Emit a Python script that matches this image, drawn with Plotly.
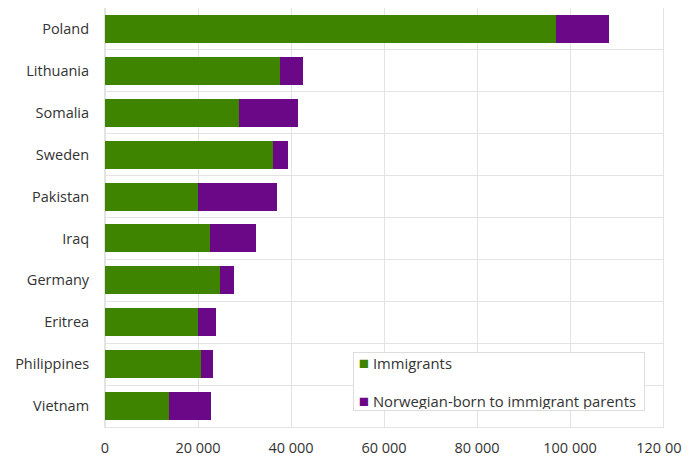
import plotly.graph_objects as go

countries = ["Poland", "Lithuania", "Somalia", "Sweden", "Pakistan", "Iraq",
             "Germany", "Eritrea", "Philippines", "Vietnam"]
immigrants = [97000, 37700, 28900, 36200, 19900, 22500, 24700, 19900, 20700, 13800]
norwegian_born = [11300, 4900, 12700, 3200, 17100, 10000, 3100, 4000, 2500, 9100]
x_ticks = [0, 20000, 40000, 60000, 80000, 100000, 120000]
x_tick_labels = ["0", "20 000", "40 000", "60 000", "80 000", "100 000", "120 000"]
series_names = ["Immigrants", "Norwegian-born to immigrant parents"]
series_colors = ["#3f8400", "#6a0888"]

fig = go.Figure()
fig.add_trace(go.Bar(y=countries, x=immigrants, orientation="h", name=series_names[0],
                     marker=dict(color=series_colors[0], line=dict(width=0))))
fig.add_trace(go.Bar(y=countries, x=norwegian_born, orientation="h", name=series_names[1],
                     marker=dict(color=series_colors[1], line=dict(width=0))))

legend_text = "<br><br>".join(
    f"&nbsp;<span style='color:{c};font-size:17px'>■</span>&nbsp;{n}"
    for n, c in zip(series_names, series_colors))

# page body has an 8px offset, so the figure is sized/positioned to compensate
W, H = 682, 450
L, R, T, B = 97, 27, 0, 31
pw, ph = W - L - R, H - T - B
grid = "#e3e3e3"

fig.update_layout(
    width=W, height=H,
    barmode="stack", bargap=0.33,
    margin=dict(l=L, r=R, t=T, b=B),
    paper_bgcolor="white", plot_bgcolor="white",
    font=dict(family="Open Sans", size=14.5, color="#333333"),
    showlegend=False,
    annotations=[dict(
        text=legend_text, xref="paper", yref="paper",
        x=(345 - L) / pw, y=(H - B - 344) / ph, xanchor="left", yanchor="top",
        align="left", valign="middle", width=288, height=55,
        showarrow=False, bgcolor="white",
        bordercolor="#dddddd", borderwidth=1, borderpad=1,
        font=dict(family="Open Sans", size=14.8, color="#333333"),
    )],
)
fig.update_xaxes(range=[0, 120000], tickvals=x_ticks, ticktext=x_tick_labels,
                 showgrid=True, gridcolor=grid, gridwidth=1,
                 zeroline=True, zerolinecolor=grid,
                 showline=True, linecolor=grid, linewidth=1, mirror=True,
                 ticks="", ticklabelstandoff=8, automargin=False,
                 tickfont=dict(size=14.5, color="#333333"), fixedrange=True)
fig.update_yaxes(type="category", categoryorder="array", categoryarray=countries[::-1],
                 tickson="boundaries", showgrid=True, gridcolor=grid, gridwidth=1,
                 showline=True, linecolor=grid, linewidth=1, mirror=True,
                 ticks="", ticklabelstandoff=12, automargin=False,
                 tickfont=dict(size=14.5, color="#333333"))

fig.write_html("out.html")
